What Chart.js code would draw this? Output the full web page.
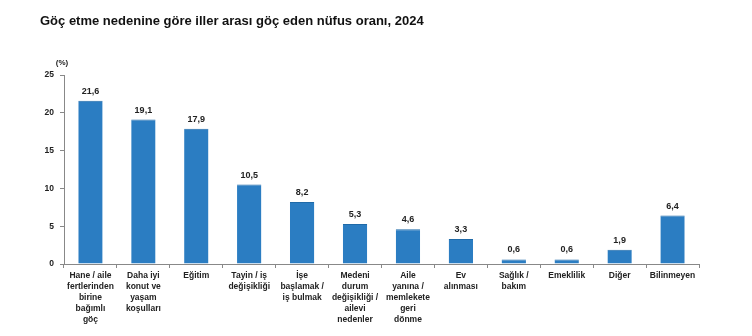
<!DOCTYPE html>
<html><head><meta charset="utf-8">
<script src="https://cdn.jsdelivr.net/npm/chart.js@4/dist/chart.umd.min.js"></script>
<style>html,body{margin:0;padding:0;background:#fff}#wrap{width:752px;height:336px;position:relative}</style>
</head><body><div id="wrap"><canvas id="c" width="752" height="336"></canvas></div>
<script>
const titleText = "Göç etme nedenine göre iller arası göç eden nüfus oranı, 2024";
const unitLabel = "(%)";
const categories = [
  ["Hane / aile","fertlerinden","birine","bağımlı","göç"],
  ["Daha iyi","konut ve","yaşam","koşulları"],
  ["Eğitim"],
  ["Tayin / iş","değişikliği"],
  ["İşe","başlamak /","iş bulmak"],
  ["Medeni","durum","değişikliği /","ailevi","nedenler"],
  ["Aile","yanına /","memlekete","geri","dönme"],
  ["Ev","alınması"],
  ["Sağlık /","bakım"],
  ["Emeklilik"],
  ["Diğer"],
  ["Bilinmeyen"]
];
const values = [21.6, 19.1, 17.9, 10.5, 8.2, 5.3, 4.6, 3.3, 0.6, 0.6, 1.9, 6.4];
const yTicks = [0, 5, 10, 15, 20, 25];

const FONT = "'Liberation Sans', Arial, sans-serif";

const overlay = {
  id: 'overlay',
  afterDraw(chart) {
    const ctx = chart.ctx;
    ctx.save();
    ctx.fillStyle = '#111';
    ctx.font = "bold 13px " + FONT;
    ctx.textBaseline = 'middle';
    ctx.textAlign = 'left';
    ctx.fillText(titleText, 40, 21);
    ctx.font = "bold 8px " + FONT;
    ctx.fillStyle = '#222';
    ctx.textAlign = 'center';
    ctx.fillText(unitLabel, chart.chartArea.left - 2, 63);
    // data labels
    const meta = chart.getDatasetMeta(0);
    ctx.font = "bold 9px " + FONT;
    ctx.fillStyle = '#222';
    ctx.textBaseline = 'bottom';
    meta.data.forEach((bar, i) => {
      ctx.fillText(values[i].toFixed(1).replace('.', ','), bar.x, bar.y - 5);
    });
    ctx.restore();
  }
};

new Chart(document.getElementById('c'), {
  type: 'bar',
  data: {
    labels: categories,
    datasets: [{
      data: values,
      backgroundColor: '#2b7dc2',
      borderColor: '#1f6aa8',
      borderWidth: {top: 1, left: 0, right: 0, bottom: 0},
      barPercentage: 0.46,
      categoryPercentage: 1.0
    }]
  },
  options: {
    responsive: false,
    animation: false,
    layout: { padding: { top: 75, right: 53, left: 0, bottom: 0 } },
    plugins: { legend: { display: false }, tooltip: { enabled: false }, title: { display: false } },
    scales: {
      x: {
        offset: true,
        afterFit(s) { s.height = 72; },
        border: { display: true, color: '#888', width: 1 },
        grid: { offset: true, drawOnChartArea: false, drawTicks: true, tickLength: 4, color: '#888' },
        ticks: {
          autoSkip: false, maxRotation: 0, minRotation: 0, padding: 2,
          color: '#222',
          font: { family: FONT, size: 8.5, weight: 'bold', lineHeight: 1.3 }
        }
      },
      y: {
        min: 0, max: 25,
        afterFit(s) { s.width = 64; },
        afterBuildTicks(s) { s.ticks = yTicks.map(v => ({ value: v })); },
        border: { display: true, color: '#888', width: 1 },
        grid: { drawOnChartArea: false, drawTicks: true, tickLength: 4, color: '#888' },
        ticks: {
          color: '#222', padding: 6,
          font: { family: FONT, size: 8.5, weight: 'bold' }
        }
      }
    }
  },
  plugins: [overlay]
});
</script></body></html>
